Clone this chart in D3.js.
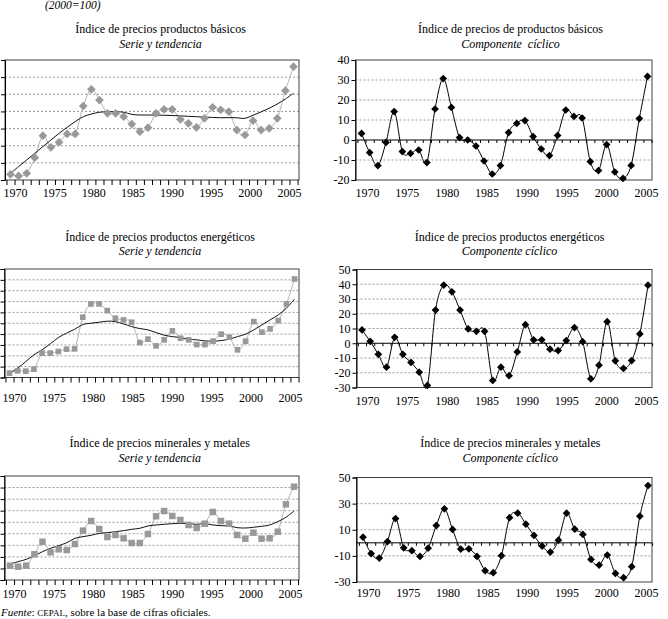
<!DOCTYPE html>
<html>
<head>
<meta charset="utf-8">
<script src="https://cdn.jsdelivr.net/npm/d3@7"></script>
<style>
  body { margin: 0; background: #fff; }
  svg { display: block; font-family: "Liberation Serif", "Times New Roman", serif; }
</style>
</head>
<body>
<svg id="chart" width="668" height="619"></svg>
<script>
// Índices de precios (2000=100): serie, tendencia y componente cíclico
const years = [1970, 1971, 1972, 1973, 1974, 1975, 1976, 1977, 1978, 1979,
  1980, 1981, 1982, 1983, 1984, 1985, 1986, 1987, 1988, 1989,
  1990, 1991, 1992, 1993, 1994, 1995, 1996, 1997, 1998, 1999,
  2000, 2001, 2002, 2003, 2004, 2005];
const labelYears = [1970, 1975, 1980, 1985, 1990, 1995, 2000, 2005];

const basicSeries = [36.6, 34.7, 37.8, 56, 81.7, 68.1, 74, 83.7, 83.7, 116.3,
  135.8, 123.3, 107.8, 107.8, 103.9, 95.3, 86.4, 91, 107.8, 112.5,
  112.5, 100.8, 96.1, 91.5, 102, 114.8, 111.7, 109.7, 88.3, 82.5,
  99.2, 88.3, 90.3, 102, 134.2, 162.2];
const basicTrend = [37.8, 45.6, 53.3, 61.1, 68.9, 76.7, 84.4, 91.4, 98.1, 103.9,
  107, 109, 109.7, 109.7, 109, 106.6, 105.8, 105.8, 105.8, 105.5,
  105.2, 104.8, 104.3, 103.8, 103.4, 103, 102.6, 102.8, 102.6, 102,
  105.5, 109.5, 113.7, 118.7, 124.5, 131.2];
const basicCycle = [3.3, -6.3, -12.8, -1.2, 14.2, -5.8, -6.7, -5, -11.3, 15.5,
  30.7, 16.3, 1.2, 0, -3, -10.5, -17, -12.8, 3.7, 8.3,
  9.7, 1.7, -4.5, -7.8, 2.3, 15, 11.8, 11, -10.8, -15.3,
  -2.3, -16, -19.2, -12.7, 10.7, 31.8];

const energySeries = [8.1, 12.3, 11.7, 15.4, 44.9, 44.9, 47.9, 52.2, 52.8, 111.1,
  135.6, 135.6, 123.3, 109.3, 106.2, 101.9, 64.4, 70.7, 58.3, 69.4,
  85.9, 72.5, 69.4, 60.7, 60.7, 67, 79.9, 74.3, 51, 67,
  103, 83.5, 89.6, 104.9, 135.6, 181.6];
const energyTrend = [8.1, 17.3, 29.4, 41.8, 51, 62, 73.6, 81.7, 89, 97.5,
  100, 101.9, 103.8, 103, 98.8, 93.8, 90.2, 87.8, 82.8, 78,
  75.4, 73.6, 70.7, 69.4, 67.5, 67, 68.1, 70.7, 75.4, 79.9,
  87.8, 97, 106.2, 115.4, 127.7, 144.3];
const energyCycle = [9, 1.3, -7.5, -16.2, 4, -7.5, -13, -19.6, -28.6, 22.5,
  39.4, 34.9, 22.5, 9.7, 8.1, 8.1, -25.2, -16.2, -22, -5.9,
  12.6, 2.3, 2.3, -4, -5, 1.8, 10.6, 1.1, -24.1, -14.9,
  14.6, -11.9, -17.1, -11.7, 6.3, 39.4];

const mineralSeries = [44.8, 43, 44.8, 64.5, 86.3, 67.9, 73.1, 71.9, 82.3, 105.4,
  122.1, 108.3, 94.4, 97.9, 92.2, 84, 84, 99.6, 130.3, 139.4,
  130.8, 123.9, 115.2, 110, 117.5, 137.7, 122.1, 117.5, 97.9, 91.5,
  101.9, 91.5, 92.2, 103.6, 151, 181.5];
const mineralTrend = [47.7, 51.7, 55.8, 62.1, 69, 74.9, 79.4, 84.6, 92.2, 95,
  97.4, 100.8, 101.9, 103.6, 105.4, 107.8, 109.5, 113.5, 115.2, 116.4,
  117.5, 118.1, 117.5, 116.4, 117.5, 115.2, 114, 113.5, 110.6, 110,
  111.2, 112.9, 115.2, 121, 128.5, 139.4];
const mineralCycle = [4.3, -8.2, -11.7, 1, 18.6, -3.8, -6, -10.4, -4.1, 13.2,
  26, 10.2, -4.8, -4.6, -10.4, -21.3, -22.9, -9.9, 19.2, 22.7,
  14.3, 5.6, -2.5, -7.1, 2, 22.7, 10.4, 6.4, -12.7, -17,
  -9.4, -23.4, -26.7, -18.3, 20.4, 43.8];

const svg = d3.select("#chart");
const FONT = "'Liberation Serif', 'Times New Roman', serif";
const GRID = "#9a9a9a";
const FRAME = "#404040";

function titles(cx, y, title, sub) {
  svg.append("text").attr("x", cx).attr("y", y).attr("text-anchor", "middle")
    .attr("font-size", 12).text(title);
  svg.append("text").attr("x", cx).attr("y", y + 14.5).attr("text-anchor", "middle")
    .attr("font-size", 12).attr("font-style", "italic")
    .style("white-space", "pre").text(sub);
}

function drawPanel(p) {
  const g = svg.append("g");
  const x = d3.scaleLinear().domain([years[0], years[years.length - 1]]).range(p.pts);
  const xl = d3.scaleLinear().domain([labelYears[0], labelYears[labelYears.length - 1]]).range(p.lab);
  const y = d3.scaleLinear().domain(p.domain).range([p.bottom, p.top]);

  // dotted gridlines (not on the frame, not on the zero line of cyclical charts)
  const inner = p.yTicks.filter(d => d !== p.domain[0] && d !== p.domain[1] && !(p.cyclic && d === 0));
  g.append("g").selectAll("line").data(inner).join("line")
    .attr("x1", p.left).attr("x2", p.right)
    .attr("y1", d => y(d)).attr("y2", d => y(d))
    .attr("stroke", GRID).attr("stroke-dasharray", "2,2");

  g.append("rect")
    .attr("x", p.left).attr("y", p.top)
    .attr("width", p.right - p.left).attr("height", p.bottom - p.top)
    .attr("fill", "none").attr("stroke", FRAME);

  // y axis
  const ya = g.append("g").attr("transform", `translate(${p.left},0)`)
    .call(d3.axisLeft(y).tickValues(p.yTicks).tickSize(4).tickPadding(2)
      .tickFormat(p.cyclic ? d => String(d) : ""));
  ya.attr("font-family", FONT).attr("font-size", 12);
  ya.select(".domain").attr("stroke", "#000");
  ya.selectAll("text").attr("fill", "#000");

  // category tick marks (bottom axis for series, zero line for cyclical)
  const bounds = years.map(d => d - 0.5).concat([years[years.length - 1] + 0.5]);
  const axisY = p.cyclic ? y(0) : p.bottom;
  const xa = g.append("g").attr("transform", `translate(0,${axisY})`)
    .call(d3.axisBottom(x).tickValues(bounds).tickSize(p.cyclic ? 3 : 5).tickFormat(""));
  xa.select(".domain").remove();
  if (p.cyclic) {
    g.append("line").attr("x1", p.left).attr("x2", p.right)
      .attr("y1", y(0)).attr("y2", y(0)).attr("stroke", "#000");
  }

  // year labels
  const la = g.append("g").attr("transform", `translate(0,${p.bottom})`)
    .call(d3.axisBottom(xl).tickValues(labelYears).tickSize(0).tickFormat(d => String(d)));
  la.attr("font-family", FONT).attr("font-size", 12);
  la.select(".domain").remove();
  la.selectAll("text").attr("y", p.labBase - p.bottom).attr("dy", null).attr("fill", "#000");

  const smooth = d3.line().x((d, i) => x(years[i])).y(d => y(d)).curve(d3.curveCatmullRom.alpha(0));

  if (p.cyclic) {
    g.append("path").datum(p.values).attr("d", smooth)
      .attr("fill", "none").attr("stroke", "#000").attr("stroke-width", 1);
    g.append("g").selectAll("path").data(p.values).join("path")
      .attr("transform", (d, i) => `translate(${x(years[i])},${y(d)}) rotate(45)`)
      .attr("d", d3.symbol(d3.symbolSquare, 30))
      .attr("fill", "#000");
  } else {
    g.append("path").datum(p.values).attr("d", smooth)
      .attr("fill", "none").attr("stroke", "#b4b4b4").attr("stroke-width", 1);
    g.append("path").datum(p.trend).attr("d", smooth)
      .attr("fill", "none").attr("stroke", "#111").attr("stroke-width", 1);
    g.append("g").selectAll("path").data(p.values).join("path")
      .attr("transform", (d, i) => `translate(${x(years[i])},${y(d)})` + (p.marker === "diamond" ? " rotate(45)" : ""))
      .attr("d", d3.symbol(d3.symbolSquare, p.markerSize))
      .attr("fill", "#999");
  }
}

// header note
svg.append("text").attr("x", 45).attr("y", 9).attr("font-size", 11.5)
  .attr("font-style", "italic").text("(2000=100)");

// row 1
titles(160.5, 33, "Índice de precios productos básicos", "Serie y tendencia");
drawPanel({ left: 5, right: 299, top: 60, bottom: 180, domain: [30, 170],
  yTicks: [30, 50, 70, 90, 110, 130, 150, 170], pts: [10.5, 293.5], lab: [15, 289], labBase: 197,
  values: basicSeries, trend: basicTrend, marker: "diamond", markerSize: 38 });
titles(510.5, 33, "Índice de precios de productos básicos", "Componente  cíclico");
drawPanel({ cyclic: true, left: 355.5, right: 652, top: 60, bottom: 180, domain: [-20, 40],
  yTicks: [-20, -10, 0, 10, 20, 30, 40], pts: [361.5, 647.5], lab: [367, 646], labBase: 197,
  values: basicCycle });

// row 2
titles(160, 240.5, "Índice de precios productos energéticos", "Serie y tendencia");
drawPanel({ left: 4.5, right: 299, top: 269, bottom: 377.5, domain: [0, 200],
  yTicks: [0, 20, 40, 60, 80, 100, 120, 140, 160, 180, 200], pts: [9.5, 294.5], lab: [14, 290], labBase: 402,
  values: energySeries, trend: energyTrend, marker: "square", markerSize: 32 });
titles(509.5, 240.5, "Índice de precios productos energéticos", "Componente cíclico");
drawPanel({ cyclic: true, left: 356.5, right: 652, top: 269.5, bottom: 387.5, domain: [-30, 50],
  yTicks: [-30, -20, -10, 0, 10, 20, 30, 40, 50], pts: [362, 648], lab: [367, 646], labBase: 405,
  values: energyCycle });

// row 3
titles(159.7, 447, "Índice de precios minerales y metales", "Serie y tendencia");
drawPanel({ left: 4.5, right: 299, top: 476, bottom: 580, domain: [20, 200],
  yTicks: [20, 40, 60, 80, 100, 120, 140, 160, 180, 200], pts: [10, 294], lab: [14, 290], labBase: 597.5,
  values: mineralSeries, trend: mineralTrend, marker: "square", markerSize: 42 });
titles(510.3, 447, "Índice de precios minerales y metales", "Componente cíclico");
drawPanel({ cyclic: true, left: 356.5, right: 652, top: 477.5, bottom: 582, domain: [-30, 50],
  yTicks: [-30, -10, 10, 30, 50], pts: [363, 648], lab: [368, 646], labBase: 597,
  values: mineralCycle });

// source note
const src = svg.append("text").attr("x", 1).attr("y", 615.5).attr("font-size", 11);
src.append("tspan").attr("font-style", "italic").text("Fuente");
src.append("tspan").text(": ");
src.append("tspan").attr("font-size", 9).text("CEPAL");
src.append("tspan").text(", sobre la base de cifras oficiales.");
</script>
</body>
</html>
